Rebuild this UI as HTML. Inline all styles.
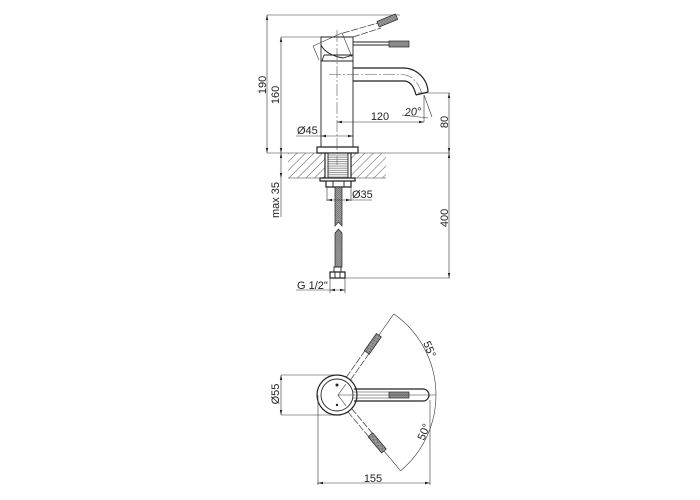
<!DOCTYPE html>
<html><head><meta charset="utf-8"><style>
html,body{margin:0;padding:0;background:#fff;width:700px;height:500px;overflow:hidden}
svg{display:block}
text{font-family:"Liberation Sans",sans-serif;font-size:11px;fill:#222}
.d{stroke:#333;stroke-width:.6;fill:none}
.o{stroke:#222;stroke-width:.9;fill:none}
.t{stroke:#222;stroke-width:1.2;fill:none}
.c{stroke:#555;stroke-width:.6;fill:none;stroke-dasharray:12 2 2 2}
.h{stroke:#333;stroke-width:.7;fill:none;stroke-dasharray:7 1.500}
.a{fill:#222;stroke:none}
</style></head><body>
<svg width="700" height="500" viewBox="0 0 700 500" xmlns="http://www.w3.org/2000/svg">
<defs>
<pattern id="hat" width="6" height="6" patternUnits="userSpaceOnUse" patternTransform="rotate(45)"><line x1="0" y1="0" x2="0" y2="6" stroke="#333" stroke-width=".8"/></pattern>
<pattern id="x" width="1.400" height="1.400" patternUnits="userSpaceOnUse" patternTransform="rotate(45)"><rect width="1.400" height="1.400" fill="#aaa"/><rect width=".7" height=".7" fill="#333"/></pattern>
<pattern id="th" width="2" height="2.200" patternUnits="userSpaceOnUse"><line x1="0" y1="1" x2="2" y2="1" stroke="#777" stroke-width=".8"/></pattern>
<g id="lev">
  <line class="h" x1="20" y1="-2.500" x2="52" y2="-2.500"/><line class="h" x1="20" y1="2.500" x2="52" y2="2.500"/>
  <rect x="52" y="-3" width="21" height="6" fill="url(#x)" stroke="#222" stroke-width=".7"/>
</g>
</defs>

<!-- side view dims -->
<path class="d" d="M267 15H400M267 15V153M281 37H321M281 37V178M267 153H450"/>
<path class="a" d="M267 15l-1.200 5h2.400zM267 153l-1.200-5h2.400zM281 37l-1.200 5h2.400zM281 153l-1.200-5h2.400zM281 153l-1.200 5h2.400zM281 178l-1.200-5h2.400z"/>
<path class="d" d="M418 93H450M449 93V278M345 278H450"/>
<path class="a" d="M449 93l-1.200 5h2.400zM449 153l-1.200-5h2.400zM449 153l-1.200 5h2.400zM449 278l-1.200-5h2.400z"/>

<!-- faucet body -->
<path class="o" d="M321 61V147M353 61V147"/>
<path class="t" d="M317 147H358V153H317Z"/>
<path class="o" d="M321 37H353V61H321ZM321 37V45Q326 55 343 58L353 55M324 55H353M322 61L324 55"/>
<path class="d" d="M313 46L342 33L352 57M313 46L319 60"/>
<path class="h" d="M343 33L378 23M353 37L381 28"/>
<g transform="translate(378,24) rotate(-22)"><rect x="0" y="-2.800" width="20" height="6" fill="url(#x)" stroke="#222" stroke-width=".7"/></g>
<path class="o" d="M353 42H389M353 45H389"/>
<rect x="389" y="41" width="20" height="6" fill="url(#x)" stroke="#222" stroke-width=".7"/>
<!-- spout -->
<path class="t" d="M353 68H403A25 25 0 0 1 428 92M353 81H405C411 82 414 87 416 95"/>
<path class="t" d="M416 95L428 92"/>
<path class="c" d="M329 74.500H402C413 75 419 84 422 94"/>
<path class="c" d="M337 30V165"/>
<!-- 20 deg + 120 + 45 -->
<path class="d" d="M424 95L432 117M337 122H424M402 115L428 118M296 136H353M321 136V147"/>
<path class="a" d="M337 122l5-1.200v2.400zM424 122l-5-1.200v2.400zM321 136l5-1.200v2.400zM353 136l-5-1.200v2.400z"/>
<line class="d" x1="424" y1="95" x2="424" y2="122"/>

<!-- countertop -->
<path d="M288 153H325V178H288ZM351 153H386V178H351Z" fill="url(#hat)"/>
<path class="d" d="M288 178H320M355 178H386"/>
<rect x="328" y="153" width="20" height="25" fill="url(#th)"/>
<path class="t" d="M325 153V178M351 153V178"/>
<path class="o" d="M328 153V178M348 153V178"/>
<path class="t" d="M320 178H355V181H320ZM326 181H351V187H326Z"/>
<path class="o" d="M333 181V187M344 181V187"/>
<!-- hose -->
<path d="M335 187H342V226L338.500 222L335 226Z" fill="url(#x)" stroke="#222" stroke-width=".7"/>
<path d="M335 267V233L338.500 229L342 233V267Z" fill="url(#x)" stroke="#222" stroke-width=".7"/>
<path class="o" d="M334 267H341V272H334Z"/>
<path class="t" d="M330 272H345V278H330Z"/>
<path class="o" d="M335 272V278M340 272V278"/>
<path class="d" d="M330 278V293M345 278V293M296 290H345"/>
<path class="a" d="M330 290l5-1.200v2.400zM345 290l-5-1.200v2.400z"/>
<path class="d" d="M327 187V201M351 187V201M327 200H372"/>
<path class="a" d="M327 200l5-1.200v2.400zM351 200l-5-1.200v2.400z"/>
<line class="d" x1="281" y1="178" x2="281" y2="217"/>

<!-- plan view -->
<circle class="t" cx="337" cy="395" r="20"/>
<circle class="o" cx="337" cy="395" r="16"/>
<path class="t" d="M354 389H423A6 6 0 0 1 423 401H354"/>
<path class="d" d="M353 392H389M353 398H389"/>
<rect x="389" y="392" width="20" height="6" fill="url(#x)" stroke="#222" stroke-width=".7"/>
<path class="d" d="M338 395H436"/>
<path class="d" d="M346 384L338 395L346 406"/>
<circle class="a" cx="337" cy="385" r="1.500"/><circle class="a" cx="337" cy="405" r="1.200"/>
<g transform="translate(337,395) rotate(-55)"><use href="#lev"/><line class="d" x1="73" y1="0" x2="99" y2="0"/></g>
<g transform="translate(337,395) rotate(50)"><use href="#lev"/><line class="d" x1="73" y1="0" x2="99" y2="0"/></g>
<path class="d" d="M393.800 313.900A99 99 0 0 1 400.600 470.800"/>
<path class="d" d="M337 375H281M337 415H281M281 375V415"/>
<path class="a" d="M281 375l-1.200 5h2.400zM281 415l-1.200-5h2.400z"/>
<path class="d" d="M318 395V485M430 400V485M317 483H430"/>
<path class="a" d="M318 483l5-1.200v2.400zM430 483l-5-1.200v2.400z"/>

<!-- labels -->
<text transform="translate(266,85) rotate(-90)" text-anchor="middle">190</text>
<text transform="translate(279,95) rotate(-90)" text-anchor="middle">160</text>
<text x="380" y="120" text-anchor="middle">120</text>
<text x="297" y="134">Ø45</text>
<text x="405" y="116" transform="rotate(-4 405 116)" style="font-style:italic">20°</text>
<text transform="translate(448,122) rotate(-90)" text-anchor="middle">80</text>
<text transform="translate(448,218) rotate(-90)" text-anchor="middle">400</text>
<text transform="translate(279,200) rotate(-90)" text-anchor="middle">max 35</text>
<text x="352" y="198">Ø35</text>
<text x="297" y="289">G 1/2"</text>
<text transform="translate(279,394) rotate(-90)" text-anchor="middle">Ø55</text>
<text x="373" y="482" text-anchor="middle">155</text>
<text transform="translate(423,343) rotate(67)">55°</text>
<text transform="translate(424,441) rotate(-67)">50°</text>
</svg>
</body></html>
